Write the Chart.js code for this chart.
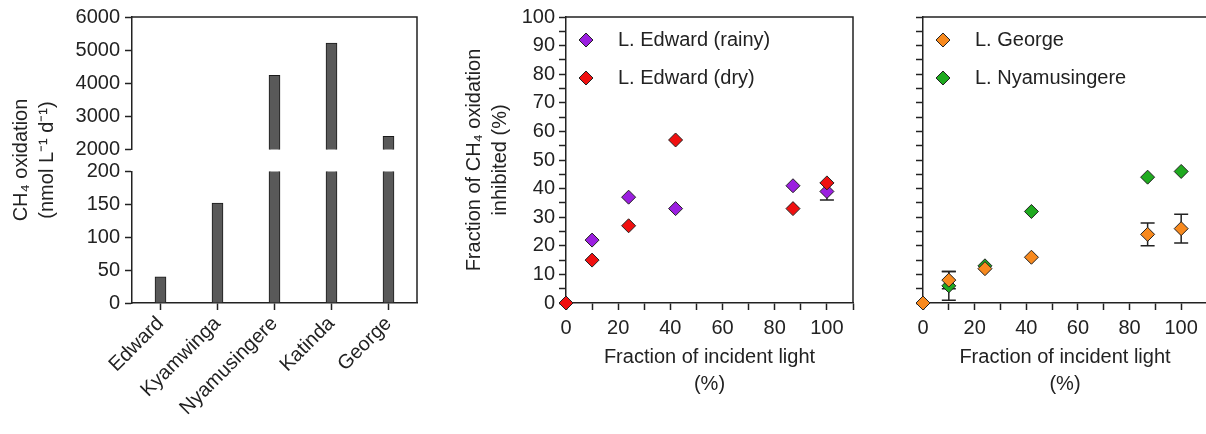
<!DOCTYPE html>
<html>
<head>
<meta charset="utf-8">
<script src="https://cdn.jsdelivr.net/npm/chart.js@4/dist/chart.umd.min.js"></script>
<style>
  html, body { margin: 0; padding: 0; background: #fff; overflow: hidden; }
  body { width: 1206px; height: 434px; position: relative; }
  canvas { position: absolute; top: 0; }
  #rateChart { left: 0; }
  #edwardChart { left: 440px; }
  #lakesChart { left: 870px; }
</style>
</head>
<body>
<canvas id="rateChart" width="440" height="434"></canvas>
<canvas id="edwardChart" width="430" height="434"></canvas>
<canvas id="lakesChart" width="345" height="434"></canvas>
<script>
// left panel: CH4 oxidation per lake (broken axis)
const lakes = ['Edward', 'Kyamwinga', 'Nyamusingere', 'Katinda', 'George'];
const oxRates = [40, 152, 4240, 5210, 2400];
const highTicks = [2000, 3000, 4000, 5000, 6000];
const lowTicks = [0, 50, 100, 150, 200];

// light experiments
const lightPct = [0, 10, 24, 42, 87, 100];
const edwardRainy = [0, 22, 37, 33, 41, 39];
const edwardRainyErr = [0, 0, 0, 0, 0, 3];
const edwardDry = [0, 15, 27, 57, 33, 42];
const george = [0, 8, 12, 16, 24, 26];
const georgeErr = [0, 3, 0, 0, 4, 5];
const nyamusingere = [0, 6, 13, 32, 44, 46];
const nyamusingereErr = [0, 5, 0, 0, 0, 0];

const lightLabels = [0, 20, 40, 60, 80, 100];
const pctLabels = [0, 10, 20, 30, 40, 50, 60, 70, 80, 90, 100];

const ink = '#222';
Chart.defaults.font.family = '"Liberation Sans", Arial, sans-serif';
Chart.defaults.font.size = 20;
Chart.defaults.color = ink;

const pts = ys => lightPct.map((x, i) => ({ x: x, y: ys[i] }));

// top + right lines of the box
const frame = {
  id: 'frame',
  beforeDatasetsDraw(chart) {
    const { ctx, chartArea: a } = chart;
    ctx.save();
    ctx.strokeStyle = ink;
    ctx.lineWidth = 1.5;
    ctx.beginPath();
    ctx.moveTo(a.left, a.top);
    ctx.lineTo(a.right, a.top);
    ctx.lineTo(a.right, a.bottom);
    ctx.stroke();
    ctx.restore();
  }
};

const errorBars = {
  id: 'errorBars',
  beforeDatasetsDraw(chart) {
    const { ctx, scales: { x, y } } = chart;
    ctx.save();
    ctx.strokeStyle = ink;
    ctx.lineWidth = 1.5;
    chart.data.datasets.forEach(ds => {
      if (!ds.errors) return;
      ds.data.forEach((p, i) => {
        const e = ds.errors[i];
        if (!e) return;
        const px = x.getPixelForValue(p.x);
        const top = y.getPixelForValue(p.y + e);
        const bot = y.getPixelForValue(p.y - e);
        ctx.beginPath();
        ctx.moveTo(px, top); ctx.lineTo(px, bot);
        ctx.moveTo(px - 7, top); ctx.lineTo(px + 7, top);
        ctx.moveTo(px - 7, bot); ctx.lineTo(px + 7, bot);
        ctx.stroke();
      });
    });
    ctx.restore();
  }
};

// legend inside the plot, top left
const innerLegend = {
  id: 'innerLegend',
  afterDatasetsDraw(chart) {
    const { ctx, chartArea: a } = chart;
    ctx.save();
    ctx.font = '20px "Liberation Sans", Arial, sans-serif';
    ctx.textBaseline = 'middle';
    chart.data.datasets.forEach((ds, i) => {
      const cx = a.left + 20, cy = a.top + 23 + i * 38;
      ctx.fillStyle = ds.backgroundColor;
      ctx.strokeStyle = ink;
      ctx.lineWidth = 1;
      ctx.beginPath();
      ctx.moveTo(cx, cy - 7); ctx.lineTo(cx + 7, cy);
      ctx.lineTo(cx, cy + 7); ctx.lineTo(cx - 7, cy);
      ctx.closePath();
      ctx.fill();
      ctx.stroke();
      ctx.fillStyle = ink;
      ctx.fillText(ds.label, a.left + 52, cy);
    });
    ctx.restore();
  }
};

const tickGrid = { drawOnChartArea: false, tickLength: 7, tickColor: ink, tickWidth: 1.5 };
const axisBorder = { color: ink, width: 1.5 };

const barStyle = {
  backgroundColor: '#595959',
  borderColor: '#1a1a1a',
  borderWidth: 1,
  borderSkipped: 'start',
  barThickness: 11,
  grouped: false
};

const fixedTicks = vals => s => { s.ticks = vals.map(v => ({ value: v })); };

// note: scales placed in reverse key order, so the stack is listed bottom-up
new Chart(document.getElementById('rateChart'), {
  type: 'bar',
  data: {
    labels: lakes,
    datasets: [
      Object.assign({ data: oxRates, yAxisID: 'yTop' }, barStyle),
      Object.assign({ data: oxRates, yAxisID: 'yBot' }, barStyle)
    ]
  },
  options: {
    responsive: false,
    animation: false,
    layout: { padding: { top: 17, right: 23, left: 0, bottom: 0 } },
    plugins: { legend: { display: false }, tooltip: { enabled: false } },
    scales: {
      x: {
        grid: Object.assign({ offset: false }, tickGrid),
        border: axisBorder,
        ticks: { minRotation: 45, maxRotation: 45, autoSkip: false, padding: 2 },
        afterFit: s => { s.height = 131; }
      },
      yBot: {
        type: 'linear', position: 'left', stack: 'rate', stackWeight: 131,
        min: 0, max: 200,
        afterBuildTicks: fixedTicks(lowTicks),
        ticks: { padding: 5, autoSkip: false, callback: v => v },
        grid: tickGrid, border: axisBorder,
        afterFit: s => { s.width = 70; }
      },
      yGap: {
        type: 'linear', position: 'left', stack: 'rate', stackWeight: 22,
        min: 0, max: 1,
        ticks: { display: false }, grid: { display: false }, border: { display: false },
        afterFit: s => { s.width = 70; }
      },
      yTop: {
        type: 'linear', position: 'left', stack: 'rate', stackWeight: 132,
        min: 2000, max: 6000,
        afterBuildTicks: fixedTicks(highTicks),
        ticks: { padding: 5, autoSkip: false, callback: v => v },
        grid: tickGrid, border: axisBorder,
        afterFit: s => { s.width = 70; }
      },
      yTitle: {
        type: 'linear', position: 'left', min: 0, max: 1,
        ticks: { display: false }, grid: { display: false }, border: { display: false },
        title: {
          display: true,
          text: ['CH\u2084 oxidation', '(nmol L\u207B\u00B9 d\u207B\u00B9)'],
          font: { size: 20, lineHeight: 1.3 },
          padding: { top: 8, bottom: 0 }
        },
        afterFit: s => { s.width = 62; }
      }
    }
  },
  plugins: [frame]
});

function lightAxis() {
  return {
    type: 'linear', min: 0, max: 110,
    ticks: { stepSize: 10, autoSkip: false, maxRotation: 0, padding: 6,
             callback: v => lightLabels.includes(v) ? v : '' },
    grid: tickGrid,
    border: axisBorder,
    title: {
      display: true,
      text: ['Fraction of incident light', '(%)'],
      font: { size: 20, lineHeight: 1.35 },
      padding: { top: 0, bottom: 36 }
    },
    afterFit: s => { s.height = 131; }
  };
}

const marker = {
  pointStyle: 'rectRot',
  pointRadius: 7,
  pointHoverRadius: 7,
  borderColor: ink,
  borderWidth: 1,
  clip: false
};

new Chart(document.getElementById('edwardChart'), {
  type: 'scatter',
  data: {
    datasets: [
      Object.assign({ label: 'L. Edward (rainy)', data: pts(edwardRainy), errors: edwardRainyErr,
        backgroundColor: '#9b1fe0', order: 1 }, marker),
      Object.assign({ label: 'L. Edward (dry)', data: pts(edwardDry),
        backgroundColor: '#f01010', order: 0 }, marker)
    ]
  },
  options: {
    responsive: false,
    animation: false,
    layout: { padding: { top: 17, right: 17, left: 0, bottom: 0 } },
    plugins: { legend: { display: false }, tooltip: { enabled: false } },
    scales: {
      x: lightAxis(),
      y: {
        min: 0, max: 100,
        ticks: { stepSize: 5, autoSkip: false, padding: 4,
                 callback: v => pctLabels.includes(v) ? v : '' },
        grid: tickGrid,
        border: axisBorder,
        title: {
          display: true,
          text: ['Fraction of CH\u2084 oxidation', 'inhibited (%)'],
          font: { size: 20, lineHeight: 1.3 },
          padding: { top: 21, bottom: 0 }
        },
        afterFit: s => { s.width = 126; }
      }
    }
  },
  plugins: [frame, errorBars, innerLegend]
});

new Chart(document.getElementById('lakesChart'), {
  type: 'scatter',
  data: {
    datasets: [
      Object.assign({ label: 'L. George', data: pts(george), errors: georgeErr,
        backgroundColor: '#f7891e' }, marker),
      Object.assign({ label: 'L. Nyamusingere', data: pts(nyamusingere), errors: nyamusingereErr,
        backgroundColor: '#1faa1f' }, marker)
    ]
  },
  options: {
    responsive: false,
    animation: false,
    layout: { padding: { top: 17, right: 6, left: 0, bottom: 0 } },
    plugins: { legend: { display: false }, tooltip: { enabled: false } },
    scales: {
      x: lightAxis(),
      y: {
        min: 0, max: 100,
        ticks: { stepSize: 5, autoSkip: false, display: false },
        grid: tickGrid,
        border: axisBorder,
        afterFit: s => { s.width = 53; }
      }
    }
  },
  plugins: [frame, errorBars, innerLegend]
});
</script>
</body>
</html>
